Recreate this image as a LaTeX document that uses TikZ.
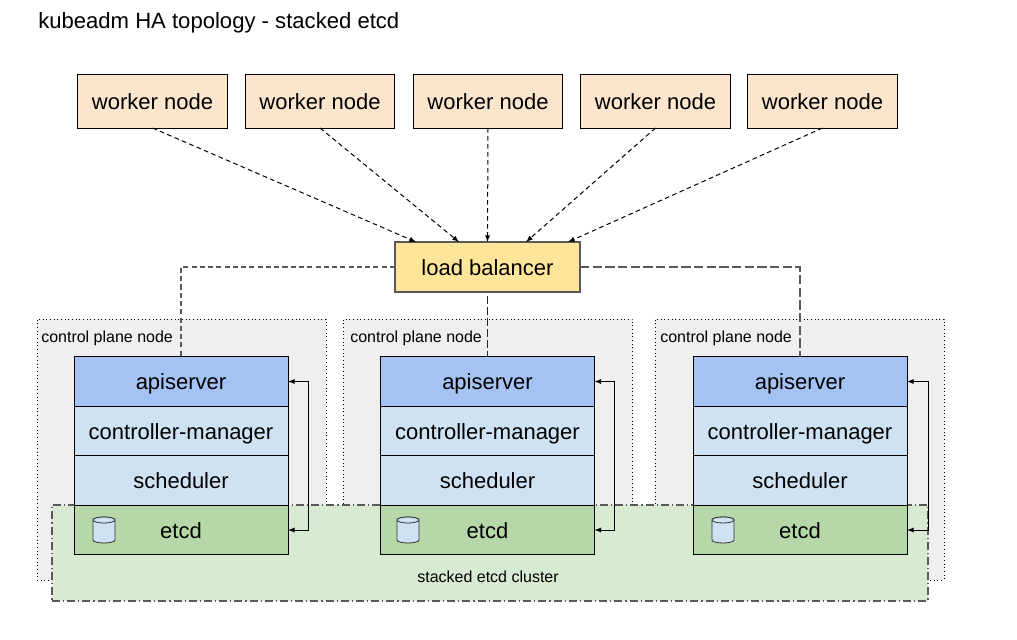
\documentclass[tikz,border=0pt]{standalone}
\usepackage{fontspec}
\setmainfont{Liberation Sans}
\usetikzlibrary{arrows}
\definecolor{workerfill}{HTML}{FCE5CD}
\definecolor{balancerfill}{HTML}{FFE599}
\definecolor{apifill}{HTML}{A4C2F4}
\definecolor{layerfill}{HTML}{CFE2F3}
\definecolor{etcdfill}{HTML}{B6D7A8}
\definecolor{clusterfill}{HTML}{D9EAD3}
\definecolor{planefill}{HTML}{EFEFEF}
\definecolor{edgegray}{HTML}{595959}
\tikzset{
	bigtext/.style={font=\fontsize{16.5pt}{19pt}\selectfont,text height=14pt,text depth=2pt},
	smalltext/.style={font=\fontsize{12pt}{14pt}\selectfont},
	worker/.style={draw=black,fill=workerfill,bigtext,inner sep=0pt,outer sep=0pt,line width=0.75pt,
			minimum width=112pt,minimum height=40.5pt},
	balancer/.style={draw=edgegray,fill=balancerfill,bigtext,inner sep=0pt,outer sep=0pt,line width=0.9pt,
			minimum width=138.75pt,minimum height=37.5pt},
	plane/.style={draw=black,fill=planefill,dotted,inner sep=0pt,line width=0.75pt,
			minimum width=216.75pt,minimum height=195.75pt},
	cluster/.style={draw=edgegray,fill=clusterfill,dash pattern=on 6pt off 2.2pt on 1pt off 2.2pt,inner sep=0pt,line width=1pt,
			minimum width=657pt,minimum height=72pt},
	layer/.style={draw=black,bigtext,inner sep=0pt,outer sep=0pt,line width=0.75pt,
			minimum width=160.5pt,minimum height=37.1pt},
	can/.pic={
			\draw[draw=black!80,fill=layerfill,line width=0.6pt] (-11, -10)
				-- (-11, 10) arc[start angle=180,end angle=360,x radius=8.25pt,y radius=2.25pt]
				-- (11, -10) arc[start angle=0,end angle=180,x radius=8.25pt,y radius=2.25pt];
			\draw[draw=black!80,fill=layerfill,line width=0.6pt] (0, -10) circle[x radius=8.25pt,y radius=2.25pt];
		},
	request/.style={-latex,dash pattern=on 3.5pt off 2.5pt,line width=0.75pt},
	serve/.style={draw=edgegray,dash pattern=on 3.8pt off 2.4pt,line width=0.9pt},
	peer/.style={latex-latex,line width=0.75pt}
}

\begin{document}
\begin{tikzpicture}[x=0.75pt,y=-0.75pt]
        \useasboundingbox (0, 0) rectangle (1017, 639);
        \node[font=\fontsize{16.57pt}{19pt}\selectfont,anchor=west,inner sep=0pt] (title) at (38, 23) {kubeadm HA topology - stacked etcd};
        % workers
        \node[worker] (worker_1) at (152.5, 101) {worker node};
        \node[worker] (worker_2) at (320, 101) {worker node};
        \node[worker] (worker_3) at (488, 101) {worker node};
        \node[worker] (worker_4) at (655.5, 101) {worker node};
        \node[worker] (worker_5) at (822.5, 101) {worker node};
        \node[balancer] (balancer) at (487.5, 267) {load balancer};
        % control plane boxes
        \node[plane] (plane_1) at (181.5, 449.5) {};
        \node[plane] (plane_2) at (488, 449.5) {};
        \node[plane] (plane_3) at (799.5, 449.5) {};
        \node[smalltext,anchor=west,inner sep=0pt] (plane_label_1) at (41, 338) {control plane node};
        \node[smalltext,anchor=west,inner sep=0pt] (plane_label_2) at (350, 338) {control plane node};
        \node[smalltext,anchor=west,inner sep=0pt] (plane_label_3) at (660, 338) {control plane node};
        \node[cluster] (cluster) at (490, 553) {};
        \node[smalltext] (cluster_label) at (488, 577) {stacked etcd cluster};
        % first stack
        \node[layer,fill=apifill] (apiserver_1) at (181, 381.5) {apiserver};
        \node[layer,fill=layerfill] (manager_1) at (181, 431) {controller-manager};
        \node[layer,fill=layerfill] (scheduler_1) at (181, 480.5) {scheduler};
        \node[layer,fill=etcdfill] (etcd_1) at (181, 530) {etcd};
        \pic at (104, 530) {can};
        % second stack
        \node[layer,fill=apifill] (apiserver_2) at (487.5, 381.5) {apiserver};
        \node[layer,fill=layerfill] (manager_2) at (487.5, 431) {controller-manager};
        \node[layer,fill=layerfill] (scheduler_2) at (487.5, 480.5) {scheduler};
        \node[layer,fill=etcdfill] (etcd_2) at (487.5, 530) {etcd};
        \pic at (408, 530) {can};
        % third stack
        \node[layer,fill=apifill] (apiserver_3) at (800, 381.5) {apiserver};
        \node[layer,fill=layerfill] (manager_3) at (800, 431) {controller-manager};
        \node[layer,fill=layerfill] (scheduler_3) at (800, 480.5) {scheduler};
        \node[layer,fill=etcdfill] (etcd_3) at (800, 530) {etcd};
        \pic at (723, 530) {can};
        % connectors
        \draw[request] (worker_1.south) -- ([xshift=-53.6pt]balancer.north);
        \draw[request] (worker_2.south) -- ([xshift=-21.4pt]balancer.north);
        \draw[request] (worker_3.south) -- (balancer.north);
        \draw[request] (worker_4.south) -- ([xshift=28.9pt]balancer.north);
        \draw[request] (worker_5.south) -- ([xshift=60.4pt]balancer.north);
        \draw[serve] (balancer.west) -| (apiserver_1.north);
        \draw[serve,draw=black!85,line width=0.75pt,dash pattern=on 6pt off 2.2pt] ([yshift=-3pt]balancer.south) -- (apiserver_2.north);
        \draw[serve,dash pattern=on 7pt off 2.5pt] (balancer.east) -| (apiserver_3.north);
        \draw[peer] (apiserver_1.east) -- ++(20, 0) |- (etcd_1.east);
        \draw[peer] (apiserver_2.east) -- ++(20, 0) |- (etcd_2.east);
        \draw[peer] (apiserver_3.east) -- ++(21, 0) |- (etcd_3.east);
    \end{tikzpicture}
\end{document}
